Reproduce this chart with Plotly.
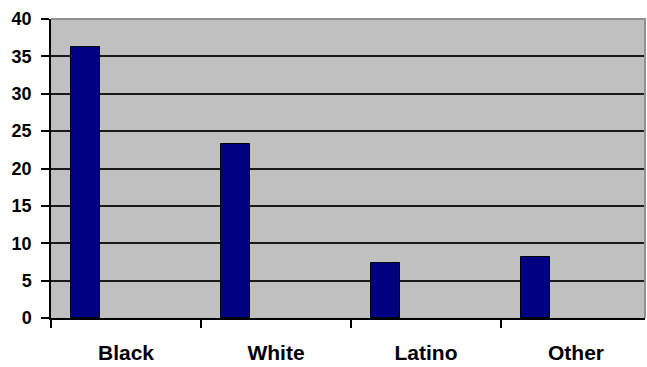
import plotly.graph_objects as go

# Share by group (percent)
groups = ["Black", "White", "Latino", "Other"]
values = [36.2, 23.3, 7.4, 8.2]
y_ticks = [0, 5, 10, 15, 20, 25, 30, 35, 40]

fig = go.Figure()

fig.add_trace(go.Bar(
    x=groups,
    y=values,
    offset=-0.367,
    width=0.193,
    marker=dict(color="#000080", line=dict(color="#000000", width=1)),
    hoverinfo="x+y",
))

# light border on the top and right of the plot area
fig.add_shape(
    type="path",
    path="M 0,1 L 1,1 L 1,0",
    xref="paper", yref="paper",
    line=dict(color="#909090", width=2),
    layer="above",
)

fig.update_layout(
    width=647,
    height=367,
    margin=dict(l=51, r=2, t=19, b=49),
    paper_bgcolor="#ffffff",
    plot_bgcolor="#c0c0c0",
    showlegend=False,
    bargap=0,
    font=dict(family="Liberation Sans, Arial, sans-serif", color="#000000", size=18, weight="bold"),
    xaxis=dict(
        type="category",
        range=[-0.5, 3.46],
        tickson="boundaries",
        ticks="outside",
        ticklen=8,
        tickwidth=1.5,
        tickcolor="#000000",
        showline=True,
        linecolor="#000000",
        linewidth=2,
        showgrid=False,
        ticklabelstandoff=15,
        tickfont=dict(size=21, weight="bold"),
    ),
    yaxis=dict(
        range=[0, 40],
        tickvals=y_ticks,
        ticks="outside",
        ticklen=8,
        tickwidth=1.5,
        tickcolor="#000000",
        showline=True,
        linecolor="#000000",
        linewidth=1.5,
        showgrid=True,
        gridcolor="#1a1a1a",
        gridwidth=2,
        zeroline=False,
        ticklabelstandoff=6,
        tickfont=dict(size=18, weight="bold"),
    ),
)

fig.write_html("out.html")
